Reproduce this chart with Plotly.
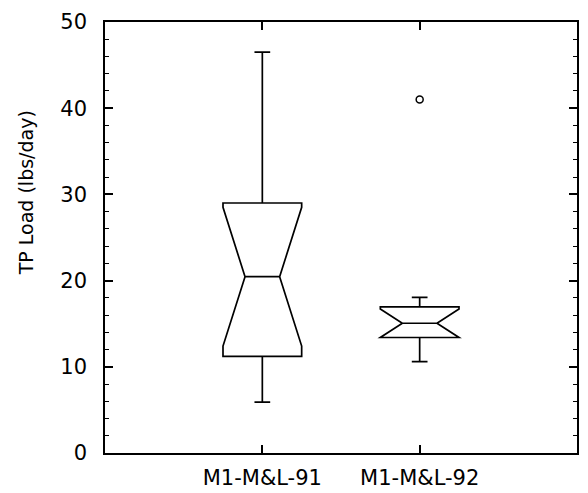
import plotly.graph_objects as go

# site labels and precomputed box statistics (TP load, lbs/day)
sites = ["M1-M&L-91", "M1-M&L-92"]
q1 = [11.2, 13.4]
median = [20.45, 15.05]
q3 = [29.0, 16.95]
lower_fence = [5.9, 10.6]
upper_fence = [46.5, 18.05]
notch_span = [8.05, 1.65]

# outliers
outlier_sites = ["M1-M&L-92"]
outlier_values = [41.0]

fig = go.Figure()

fig.add_trace(go.Box(
    x=sites,
    q1=q1, median=median, q3=q3,
    lowerfence=lower_fence, upperfence=upper_fence,
    notchspan=notch_span,
    notched=True, notchwidth=0.28,
    whiskerwidth=0.2, width=0.5,
    fillcolor="rgba(0,0,0,0)",
    line=dict(color="black", width=1.7),
    boxpoints=False,
    hoverinfo="skip",
))

fig.add_trace(go.Scatter(
    x=outlier_sites, y=outlier_values,
    mode="markers",
    marker=dict(symbol="circle-open", size=7, color="black", line=dict(width=1.5)),
    hoverinfo="skip",
))

font_family = "DejaVu Sans"

# page body adds an 8px margin, so the figure is sized/offset to compensate
fig.update_layout(
    width=572, height=485,
    margin=dict(l=97, r=3, t=14, b=40),
    paper_bgcolor="white", plot_bgcolor="white",
    showlegend=False,
    font=dict(family=font_family, color="black", size=21),
)

# y title sits above the axis centre in the original, so use an annotation
fig.add_annotation(
    text="TP Load (lbs/day)", textangle=-90,
    xref="paper", yref="paper", x=-0.167, y=0.603,
    xanchor="center", yanchor="middle", showarrow=False,
    font=dict(size=19),
)

fig.update_xaxes(
    type="category", range=[-1, 2], automargin=False,
    showline=True, linecolor="black", linewidth=1.5, mirror="ticks",
    ticks="inside", ticklen=8, tickwidth=1.5, tickcolor="black",
    showgrid=False, zeroline=False,
    tickfont=dict(size=21), ticklabelstandoff=5,
)

fig.update_yaxes(
    range=[0, 50], dtick=10, automargin=False,
    showline=True, linecolor="black", linewidth=1.5, mirror="ticks",
    ticks="inside", ticklen=8, tickwidth=1.5, tickcolor="black",
    minor=dict(dtick=2, ticks="inside", ticklen=4, tickwidth=1.2, tickcolor="black", showgrid=False),
    showgrid=False, zeroline=False,
    tickfont=dict(size=21), ticklabelstandoff=12,
)

fig.write_html("out.html")
